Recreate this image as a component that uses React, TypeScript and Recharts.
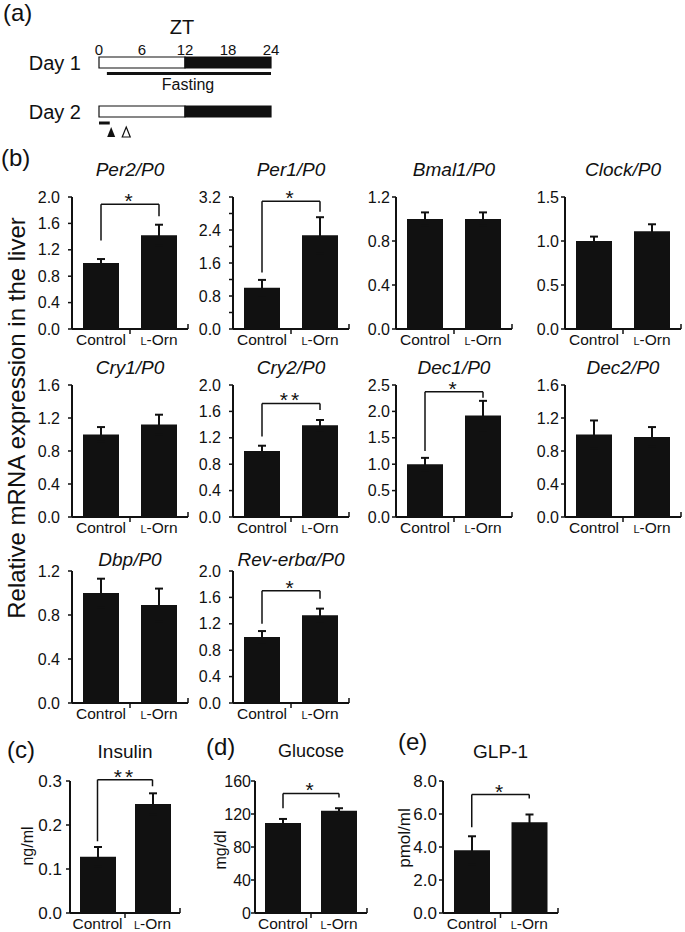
import React from "react";
import {
  Bar,
  BarChart,
  ComposedChart,
  ErrorBar,
  ReferenceArea,
  ReferenceLine,
  Scatter,
  XAxis,
  YAxis,
} from "recharts";

const INK = "#111";
const FONT = '"Liberation Sans", Arial, Helvetica, sans-serif';

// (a) protocol, ZT hours
const ztTicks = [0, 6, 12, 18, 24];
const days = ["Day 1", "Day 2"];
const lightPhase = [0, 12];
const darkPhase = [12, 24];
const fastingSpan = [1.1, 24];
const dosingSpan = [0, 1.5];
const markerTimes = [1.7, 3.8];

// (b)-(e) mean and SEM, Control vs L-Orn
const groups = ["Control", "L-Orn"];

const per2Mean = [1.0, 1.42];
const per2Sem = [0.06, 0.16];
const per1Mean = [1.0, 2.27];
const per1Sem = [0.19, 0.44];
const bmal1Mean = [1.0, 1.0];
const bmal1Sem = [0.06, 0.06];
const clockMean = [1.0, 1.11];
const clockSem = [0.05, 0.08];
const cry1Mean = [1.0, 1.12];
const cry1Sem = [0.09, 0.12];
const cry2Mean = [1.0, 1.39];
const cry2Sem = [0.08, 0.08];
const dec1Mean = [1.0, 1.92];
const dec1Sem = [0.12, 0.28];
const dec2Mean = [1.0, 0.97];
const dec2Sem = [0.17, 0.12];
const dbpMean = [1.0, 0.89];
const dbpSem = [0.13, 0.15];
const revMean = [1.0, 1.33];
const revSem = [0.09, 0.1];
const insulinMean = [0.128, 0.248];
const insulinSem = [0.022, 0.024];
const glucoseMean = [109, 124];
const glucoseSem = [5, 3];
const glpMean = [3.8, 5.5];
const glpSem = [0.85, 0.47];

// significance brackets: [control leg end, bar height, L-Orn leg end]
const per2Bracket = [1.34, 1.89, 1.71];
const per1Bracket = [1.37, 3.1, 2.84];
const cry2Bracket = [1.22, 1.72, 1.62];
const dec1Bracket = [1.25, 2.37, 2.26];
const revBracket = [1.2, 1.7, 1.58];
const insulinBracket = [0.163, 0.303, 0.288];
const glucoseBracket = [127, 145, 140];
const glpBracket = [5.2, 7.18, 6.94];

const ticks2 = [0, 0.4, 0.8, 1.2, 1.6, 2.0];
const ticks32 = [0, 0.4, 0.8, 1.2, 1.6, 2.0, 2.4, 2.8, 3.2];
const ticks12 = [0, 0.4, 0.8, 1.2];
const ticks15 = [0, 0.5, 1.0, 1.5];
const ticks16 = [0, 0.4, 0.8, 1.2, 1.6];
const ticks25 = [0, 0.5, 1.0, 1.5, 2.0, 2.5];
const insulinTicks = [0, 0.1, 0.2, 0.3];
const glucoseTicks = [0, 40, 80, 120, 160];
const glpTicks = [0, 2, 4, 6, 8];

const f1 = (v: number) => v.toFixed(1);
const fInt = (v: number) => String(v);
const fEvery08 = (v: number) => (Math.round(v * 10) % 8 === 0 ? v.toFixed(1) : "");

type Spec = {
  title: string;
  italic?: boolean;
  mean: number[];
  sem: number[];
  ticks: number[];
  fmt: (v: number) => string;
  bracket?: number[];
  mark?: string;
  x: number;
  y: number;
  w: number;
  titleY: number;
  gap: number;
  font: number;
  titleSize: number;
};

const YW = 70;
const MT = 30;
const MR = 10;
const XH = 28;
const PH = 132;

function GroupTick(props: any) {
  const { x, y, payload, index, band } = props;
  const label = String(payload.value);
  const tx = x + band / 2;
  return (
    <g>
      <line
        x1={tx}
        x2={tx}
        y1={y}
        y2={index === 0 ? y + 5 : y - 5}
        stroke={INK}
        strokeWidth={1.5}
      />
      <text x={x} y={y + 16} textAnchor="middle" fontSize={15.5} fill={INK} fontFamily={FONT}>
        {label === "L-Orn" ? (
          <>
            <tspan fontSize={11}>L</tspan>
            <tspan>-Orn</tspan>
          </>
        ) : (
          label
        )}
      </text>
    </g>
  );
}

function Panel({ s }: { s: Spec }) {
  const data = groups.map((g, i) => ({ group: g, mean: s.mean[i], sem: s.sem[i] }));
  const top = s.ticks[s.ticks.length - 1];
  const b = s.bracket;
  const line = { stroke: INK, strokeWidth: 1.5, ifOverflow: "visible" as const };
  return (
    <>
      <div
        style={{
          position: "absolute",
          left: s.x + s.w / 2,
          top: s.titleY,
          transform: "translate(-50%, -50%)",
          fontFamily: FONT,
          fontSize: s.titleSize,
          fontStyle: s.italic ? "italic" : "normal",
          color: INK,
          whiteSpace: "nowrap",
          lineHeight: 1,
        }}
      >
        {s.title}
      </div>
      <div style={{ position: "absolute", left: s.x - YW, top: s.y - MT }}>
        <BarChart
          width={YW + s.w + MR}
          height={MT + PH + XH}
          data={data}
          margin={{ top: MT, right: MR, left: 0, bottom: 0 }}
        >
          <XAxis
            dataKey="group"
            interval={0}
            height={XH}
            tickSize={0}
            tickMargin={0}
            tickLine={false}
            axisLine={{ stroke: INK, strokeWidth: 2 }}
            tick={(p: any) => <GroupTick {...p} band={s.w / 2} />}
          />
          <YAxis
            type="number"
            width={YW}
            domain={[0, top]}
            ticks={s.ticks}
            interval={0}
            tickFormatter={s.fmt}
            tickSize={4}
            tickMargin={s.gap}
            axisLine={{ stroke: INK, strokeWidth: 2 }}
            tickLine={{ stroke: INK, strokeWidth: 1.5 }}
            tick={{ fill: INK, fontSize: s.font, fontFamily: FONT }}
            allowDataOverflow
          />
          <Bar dataKey="mean" fill={INK} barSize={36} isAnimationActive={false}>
            <ErrorBar dataKey="sem" width={4} strokeWidth={2} stroke={INK} direction="y" />
          </Bar>
          {b && (
            <ReferenceLine
              {...line}
              segment={[
                { x: groups[0], y: b[0] },
                { x: groups[0], y: b[1] },
              ]}
            />
          )}
          {b && (
            <ReferenceLine
              {...line}
              segment={[
                { x: groups[0], y: b[1] },
                { x: groups[1], y: b[1] },
              ]}
              label={{
                value: s.mark,
                position: "top",
                offset: -4,
                fontSize: 21,
                fill: INK,
                fontFamily: FONT,
                letterSpacing: 3,
              }}
            />
          )}
          {b && (
            <ReferenceLine
              {...line}
              segment={[
                { x: groups[1], y: b[1] },
                { x: groups[1], y: b[2] },
              ]}
            />
          )}
        </BarChart>
      </div>
    </>
  );
}

const colX = [72, 233, 396, 565];
const rowY = [197, 385, 571];
const rowTitleY = [169, 367, 559];
const colGap = [8, 8, 2, 2];
const W = 116;

const genes: Spec[] = [
  { title: "Per2/P0", mean: per2Mean, sem: per2Sem, ticks: ticks2, fmt: f1, bracket: per2Bracket, mark: "*" },
  { title: "Per1/P0", mean: per1Mean, sem: per1Sem, ticks: ticks32, fmt: fEvery08, bracket: per1Bracket, mark: "*" },
  { title: "Bmal1/P0", mean: bmal1Mean, sem: bmal1Sem, ticks: ticks12, fmt: f1 },
  { title: "Clock/P0", mean: clockMean, sem: clockSem, ticks: ticks15, fmt: f1 },
  { title: "Cry1/P0", mean: cry1Mean, sem: cry1Sem, ticks: ticks16, fmt: f1 },
  { title: "Cry2/P0", mean: cry2Mean, sem: cry2Sem, ticks: ticks2, fmt: f1, bracket: cry2Bracket, mark: "**" },
  { title: "Dec1/P0", mean: dec1Mean, sem: dec1Sem, ticks: ticks25, fmt: f1, bracket: dec1Bracket, mark: "*" },
  { title: "Dec2/P0", mean: dec2Mean, sem: dec2Sem, ticks: ticks16, fmt: f1 },
  { title: "Dbp/P0", mean: dbpMean, sem: dbpSem, ticks: ticks12, fmt: f1 },
  { title: "Rev-erbα/P0", mean: revMean, sem: revSem, ticks: ticks2, fmt: f1, bracket: revBracket, mark: "*" },
].map((g, i) => ({
  ...g,
  italic: true,
  x: colX[i % 4],
  y: rowY[Math.floor(i / 4)],
  w: W,
  titleY: rowTitleY[Math.floor(i / 4)],
  gap: colGap[i % 4],
  font: 16,
  titleSize: 19,
}));

const serum: Spec[] = [
  { title: "Insulin", mean: insulinMean, sem: insulinSem, ticks: insulinTicks, fmt: f1, bracket: insulinBracket, mark: "**", x: 70, w: 110, gap: 4, font: 17, titleSize: 19 },
  { title: "Glucose", mean: glucoseMean, sem: glucoseSem, ticks: glucoseTicks, fmt: fInt, bracket: glucoseBracket, mark: "*", x: 255, w: 112, gap: 0, font: 16, titleSize: 18 },
  { title: "GLP-1", mean: glpMean, sem: glpSem, ticks: glpTicks, fmt: f1, bracket: glpBracket, mark: "*", x: 443, w: 115, gap: 2, font: 17, titleSize: 19 },
].map((g) => ({ ...g, y: 781, titleY: 751 }));

const units = [
  { text: "ng/ml", x: 28, y: 846, size: 16 },
  { text: "mg/dl", x: 221, y: 850, size: 16 },
  { text: "pmol/ml", x: 404, y: 838, size: 17 },
];

const panelTags = [
  { text: "(a)", x: 3, y: 13 },
  { text: "(b)", x: 1, y: 158 },
  { text: "(c)", x: 7, y: 750 },
  { text: "(d)", x: 206, y: 747 },
  { text: "(e)", x: 398, y: 742 },
];

function TimelineMarker(props: any) {
  const { cx, cy, payload } = props;
  const d = `M${cx},${cy - 5} L${cx + 4},${cy + 5} L${cx - 4},${cy + 5} Z`;
  return payload.filled ? (
    <path d={d} fill={INK} />
  ) : (
    <path d={d} fill="#fff" stroke={INK} strokeWidth={1.2} />
  );
}

function Timeline() {
  const marks = markerTimes.map((zt, i) => ({ zt, row: 76, filled: i === 0 }));
  const bar = { fillOpacity: 1, stroke: INK, strokeWidth: 1.2, ifOverflow: "visible" as const };
  return (
    <div style={{ position: "absolute", left: 0, top: 0 }}>
      <ComposedChart
        width={300}
        height={145}
        data={marks}
        margin={{ top: 36, right: 29, left: 0, bottom: 0 }}
      >
        <XAxis
          type="number"
          dataKey="zt"
          orientation="top"
          domain={[0, 24]}
          ticks={ztTicks}
          interval={0}
          height={20}
          axisLine={false}
          tickLine={false}
          tickSize={0}
          tickMargin={1}
          tick={{ fill: INK, fontSize: 15, fontFamily: FONT }}
        />
        <YAxis
          type="number"
          dataKey="row"
          domain={[0, 89]}
          reversed
          width={99}
          ticks={[6.5, 55.5]}
          interval={0}
          tickFormatter={(v: number) => (v < 30 ? days[0] : days[1])}
          axisLine={false}
          tickLine={false}
          tickSize={0}
          tickMargin={18}
          tick={{ fill: INK, fontSize: 20, fontFamily: FONT }}
        />
        <ReferenceArea {...bar} x1={lightPhase[0]} x2={lightPhase[1]} y1={1} y2={12} fill="#fff" />
        <ReferenceArea {...bar} x1={darkPhase[0]} x2={darkPhase[1]} y1={1} y2={12} fill={INK} />
        <ReferenceLine
          segment={[
            { x: fastingSpan[0], y: 17.5 },
            { x: fastingSpan[1], y: 17.5 },
          ]}
          stroke={INK}
          strokeWidth={3}
        />
        <ReferenceArea {...bar} x1={lightPhase[0]} x2={lightPhase[1]} y1={50} y2={61} fill="#fff" />
        <ReferenceArea {...bar} x1={darkPhase[0]} x2={darkPhase[1]} y1={50} y2={61} fill={INK} />
        <ReferenceLine
          segment={[
            { x: dosingSpan[0], y: 67 },
            { x: dosingSpan[1], y: 67 },
          ]}
          stroke={INK}
          strokeWidth={3}
        />
        <Scatter dataKey="row" isAnimationActive={false} shape={(p: any) => <TimelineMarker {...p} />} />
      </ComposedChart>
    </div>
  );
}

const text = (extra: React.CSSProperties): React.CSSProperties => ({
  position: "absolute",
  fontFamily: FONT,
  color: INK,
  whiteSpace: "nowrap",
  lineHeight: 1,
  ...extra,
});

export default function App() {
  return (
    <div
      style={{
        position: "absolute",
        left: 0,
        top: 0,
        width: 685,
        height: 932,
        background: "#fff",
        overflow: "hidden",
      }}
    >
      <Timeline />
      <div style={text({ left: 182, top: 27, fontSize: 20, transform: "translate(-50%, -50%)" })}>ZT</div>
      <div style={text({ left: 188, top: 85, fontSize: 16, transform: "translate(-50%, -50%)" })}>Fasting</div>

      {panelTags.map((t) => (
        <div key={t.text} style={text({ left: t.x, top: t.y, fontSize: 24, transform: "translateY(-50%)" })}>
          {t.text}
        </div>
      ))}

      <div
        style={text({
          left: 17,
          top: 418,
          fontSize: 24,
          transform: "translate(-50%, -50%) rotate(-90deg)",
        })}
      >
        Relative mRNA expression in the liver
      </div>

      {genes.map((s) => (
        <Panel key={s.title} s={s} />
      ))}
      {serum.map((s) => (
        <Panel key={s.title} s={s} />
      ))}

      {units.map((u) => (
        <div
          key={u.text}
          style={text({
            left: u.x,
            top: u.y,
            fontSize: u.size,
            transform: "translate(-50%, -50%) rotate(-90deg)",
          })}
        >
          {u.text}
        </div>
      ))}
    </div>
  );
}
